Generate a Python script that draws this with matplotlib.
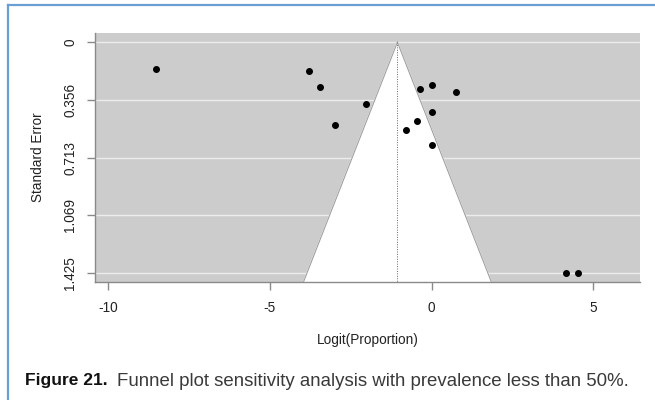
import numpy as np
import matplotlib.pyplot as plt
from matplotlib.lines import Line2D

# study estimates (logit proportion) and their standard errors
logit_prop = [-8.53, -3.79, -3.45, -2.99, -2.03, -0.79, -0.45, -0.37,
              0.0, 0.0, 0.0, 0.75, 4.14, 4.52]
std_err = [0.167, 0.178, 0.275, 0.514, 0.380, 0.543, 0.485, 0.287,
           0.262, 0.429, 0.636, 0.308, 1.425, 1.425]
pooled = -1.06
se_ticks = [0, 0.356, 0.713, 1.069, 1.425]
se_labels = ["0", "0.356", "0.713", "1.069", "1.425"]
x_ticks = [-10, -5, 0, 5]

plt.rcParams['font.family'] = ['Liberation Sans', 'DejaVu Sans']
plt.rcParams['axes.unicode_minus'] = False

fig = plt.figure(figsize=(6.55, 4.0), dpi=100)
ax = fig.add_axes([95 / 655, 1 - 282 / 400, 545 / 655, 249 / 400])

se_max = max(std_err)
pad = 0.04 * se_max
ylo, yhi = -pad, se_max + pad
ax.set_xlim(-10.41, 6.44)
ax.set_ylim(yhi, ylo)

ax.set_facecolor('#cccccc')
for t in se_ticks:
    ax.axhline(t, color='#ececec', lw=1.0, zorder=1)

# white funnel (pseudo 95% CI region)
se_grid = np.array([0, yhi])
left = pooled - 1.96 * se_grid
right = pooled + 1.96 * se_grid
ax.fill(np.r_[left, right[::-1]], np.r_[se_grid, se_grid[::-1]],
        color='white', zorder=2)
ax.plot(left, se_grid, color='#a0a0a0', lw=0.8, zorder=3)
ax.plot(right, se_grid, color='#a0a0a0', lw=0.8, zorder=3)
ax.plot([pooled, pooled], [0, yhi], color='#666666', lw=0.7,
        ls=(0, (1, 1.5)), zorder=3)

ax.plot(logit_prop, std_err, 'o', color='black', ms=4.0, zorder=4,
        clip_on=False)

for s in ['top', 'right']:
    ax.spines[s].set_visible(False)
for s in ['left', 'bottom']:
    ax.spines[s].set_color('#8a8a8a')
    ax.spines[s].set_linewidth(1.0)

ax.set_yticks(se_ticks)
ax.set_yticklabels(se_labels, rotation=90, va='center')
ax.set_xticks(x_ticks)
ax.tick_params(axis='both', colors='#8a8a8a', labelcolor='#222222',
               labelsize=9.8, length=5.8, width=1.0)
ax.tick_params(axis='x', pad=8)
ax.tick_params(axis='y', pad=7)

ax.set_xlabel('Logit(Proportion)', fontsize=9.8, color='#222222',
              labelpad=13)
ax.set_ylabel('Standard Error', fontsize=9.8, color='#222222',
              labelpad=13)

# caption: bold figure number, then the description right after it
cap_y = 1 - 381 / 400
head = fig.text(25 / 655, cap_y, 'Figure 21.', fontsize=12.5,
                fontweight='bold', va='center', ha='left', color='#111111')
fig.canvas.draw()
bb = head.get_window_extent(fig.canvas.get_renderer())
fig.text((bb.x1 + 9) / 655, cap_y,
         'Funnel plot sensitivity analysis with prevalence less than 50%.',
         fontsize=13.4, va='center', ha='left', color='#3a3a3a')

# page border
blue = '#6a9fd4'
fig.add_artist(Line2D([8 / 655, 1], [1 - 5 / 400, 1 - 5 / 400],
                      color=blue, lw=1.6, transform=fig.transFigure))
fig.add_artist(Line2D([8 / 655, 8 / 655], [0, 1 - 5 / 400],
                      color=blue, lw=1.6, transform=fig.transFigure))

fig.savefig('out.png', dpi=100)
